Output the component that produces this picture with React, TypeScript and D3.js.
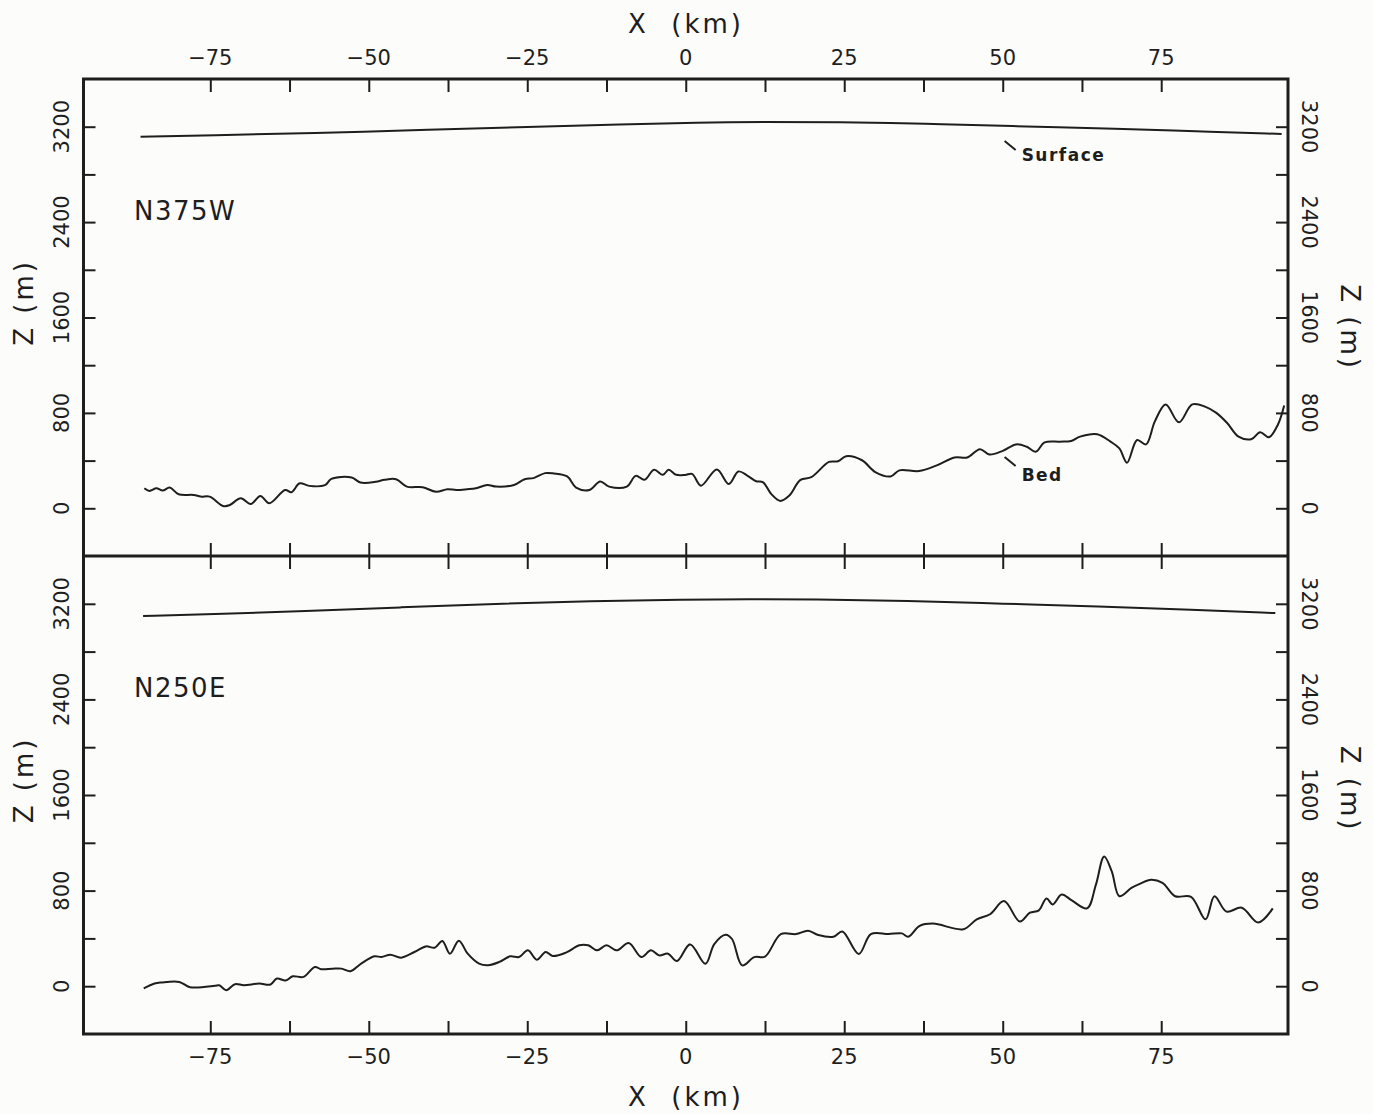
import React, { useRef, useEffect } from 'react';
import * as d3 from 'd3';

// profile data, [X km, Z m]
const n375wSurface = [
    [-86, 3116], [-75, 3128], [-59, 3145], [-40, 3175], [-25, 3197], [-10, 3218],
    [2, 3236], [12, 3240], [24, 3238], [38, 3226], [50.6, 3206], [68.8, 3181],
    [80, 3163], [94, 3139]
];

const n375wBed = [
    [-85.4, 168], [-84.6, 146], [-83.5, 168], [-82.5, 149], [-81.4, 174], [-80, 118], [-77.6, 112],
    [-76.5, 98], [-75.1, 98], [-73, 20], [-72, 25], [-70.2, 84], [-68.6, 36], [-67.1, 104],
    [-65.7, 42], [-63.2, 154], [-62.2, 135], [-60.9, 210], [-59.4, 188], [-56.9, 194], [-55.9, 247],
    [-52.7, 258], [-51.3, 216], [-48.9, 222], [-47.5, 239], [-45.7, 244], [-44, 182], [-41.5, 177],
    [-39.4, 138], [-37.6, 160], [-36.2, 154], [-34.5, 160], [-33.1, 168], [-31.3, 196], [-29.9, 182],
    [-27.1, 196], [-25.4, 244], [-24, 253], [-22.2, 295], [-20.8, 292], [-18.7, 267], [-17.3, 174],
    [-15.2, 154], [-13.5, 225], [-12.1, 182], [-9.3, 182], [-7.9, 272], [-6.5, 239], [-5, 323],
    [-3.6, 281], [-2.7, 323], [-1.5, 281], [-0.1, 280], [1, 289], [2.4, 190], [4.9, 326], [6.8, 204],
    [8.3, 309], [9.7, 275], [11.1, 227], [12.2, 218], [13.5, 119], [14.9, 62], [16.3, 105],
    [18.1, 238], [19.8, 261], [22.6, 389], [24, 394], [25.3, 437], [27.8, 403], [29.9, 304],
    [32.3, 267], [33.7, 318], [36.8, 312], [39.6, 360], [42.4, 426], [44.4, 426], [46.4, 496],
    [47.9, 451], [50, 482], [52.1, 536], [53.8, 516], [55.2, 474], [56.6, 553], [59, 559],
    [60.8, 565], [62.2, 601], [64.9, 621], [67, 559], [68.4, 502], [69.6, 383], [71.2, 573],
    [72.6, 536], [74, 729], [75.7, 871], [77.8, 721], [79.9, 871], [82, 851], [83.7, 800],
    [85.4, 715], [87.2, 601], [89.2, 579], [90.6, 638], [92, 596], [93.4, 701], [94.4, 862]
];

const n250eSurface = [
    [-85.6, 3097], [-75, 3112], [-60, 3140], [-45, 3170], [-30, 3200], [-15, 3222],
    [0, 3235], [10, 3240], [20, 3238], [35, 3225], [50, 3200], [65, 3180], [80, 3150], [93, 3122]
];

const n250eBed = [
    [-85.5, -19], [-83.8, 22], [-82.7, 31], [-79.9, 36], [-78.2, -8], [-74.3, 3], [-73.6, 8],
    [-72.5, -33], [-71.1, 17], [-69.7, 8], [-67.3, 22], [-65.5, 14], [-64.5, 64], [-63.1, 47],
    [-62, 83], [-60.3, 78], [-58.5, 161], [-57.5, 142], [-55.7, 147], [-54.3, 147], [-52.9, 125],
    [-51.2, 189], [-49.1, 250], [-48, 244], [-46.6, 264], [-44.9, 239], [-42.8, 286], [-41, 333],
    [-39.6, 322], [-38.4, 378], [-37.2, 272], [-35.8, 381], [-34.4, 272], [-32.6, 189], [-31.2, 175],
    [-29.4, 203], [-27.7, 250], [-26.3, 244], [-24.9, 300], [-23.5, 222], [-22.1, 286], [-21, 253],
    [-18.9, 281], [-16.8, 342], [-15.4, 342], [-14, 300], [-12.5, 342], [-10.9, 300], [-9, 361],
    [-7, 244], [-5.5, 300], [-4.2, 258], [-2.8, 272], [-1.4, 210], [0.7, 350], [3.1, 188],
    [4.5, 353], [6.3, 431], [7.3, 395], [8.9, 174], [10.8, 243], [12.5, 248], [15, 436],
    [17.4, 436], [19.3, 464], [20.9, 428], [23.3, 414], [24.7, 458], [27.3, 270], [29.2, 436],
    [32, 436], [34.1, 442], [35.1, 414], [36.9, 505], [39, 524], [43.8, 477], [45.9, 560],
    [48, 602], [50.2, 712], [52.7, 541], [54.3, 615], [55.7, 635], [56.9, 734], [57.9, 684],
    [59.3, 767], [60.9, 718], [63.3, 651], [64.7, 850], [66, 1085], [67.2, 960], [68.4, 753],
    [70.3, 822], [71.7, 858], [73.4, 891], [75.2, 864], [77.2, 753], [79.7, 748], [82, 560],
    [83.4, 753], [85.3, 624], [87.7, 657], [90.3, 533], [92.6, 651]
];

const xTicks = d3.range(-75, 75.1, 12.5);
const xLabels = [-75, -50, -25, 0, 25, 50, 75];
const zTicks = d3.range(0, 3201, 400);
const zLabels = [0, 800, 1600, 2400, 3200];

const panels = [
    { name: 'N375W', surface: n375wSurface, bed: n375wBed, top: 79, bottom: 556, labels: true, zRight: 10 },
    { name: 'N250E', surface: n250eSurface, bed: n250eBed, top: 556, bottom: 1034, labels: false, zRight: -6 }
];

function App() {
    const ref = useRef();

    useEffect(() => {
        const width = 1373;
        const height = 1114;
        const left = 83.5;
        const right = 1288;
        const font = "'DejaVu Sans', sans-serif";
        const ink = '#1e1e1e';

        const svg = d3.select(ref.current);
        svg.selectAll('*').remove();
        svg.attr('width', width).attr('height', height);

        svg.append('rect')
            .attr('width', width)
            .attr('height', height)
            .attr('fill', '#fcfcfa');

        const x = d3.scaleLinear().domain([-95, 95]).range([left, right]);
        const fmt = d3.format('d'); // gives the long minus sign

        panels.forEach(p => {
            const y = d3.scaleLinear().domain([-400, 3600]).range([p.bottom, p.top]);
            const g = svg.append('g');

            // inward ticks on all four sides
            const tickAxes = [
                [d3.axisTop(x).tickValues(xTicks).tickSize(-13), `translate(0,${p.top})`],
                [d3.axisBottom(x).tickValues(xTicks).tickSize(-13), `translate(0,${p.bottom})`],
                [d3.axisLeft(y).tickValues(zTicks).tickSize(-12), `translate(${left},0)`],
                [d3.axisRight(y).tickValues(zTicks).tickSize(-12), `translate(${right},0)`]
            ];
            tickAxes.forEach(([axis, tr]) => {
                const a = g.append('g')
                    .attr('transform', tr)
                    .call(axis.tickFormat(() => ''));
                a.select('.domain').remove();
                a.selectAll('line').attr('stroke', ink).attr('stroke-width', 2);
            });

            // z labels, rotated
            zLabels.forEach(v => {
                g.append('text')
                    .attr('transform', `translate(${left - 15},${y(v)}) rotate(-90)`)
                    .attr('text-anchor', 'middle')
                    .attr('font-family', font)
                    .attr('font-size', 21)
                    .attr('fill', ink)
                    .text(v);
                g.append('text')
                    .attr('transform', `translate(${right + 14},${y(v)}) rotate(90)`)
                    .attr('text-anchor', 'middle')
                    .attr('font-family', font)
                    .attr('font-size', 21)
                    .attr('fill', ink)
                    .text(v);
            });

            const mid = (p.top + p.bottom) / 2;
            g.append('text')
                .attr('transform', `translate(33,${mid - 15}) rotate(-90)`)
                .attr('text-anchor', 'middle')
                .attr('font-family', font)
                .attr('font-size', 26)
                .attr('letter-spacing', 3)
                .attr('fill', ink)
                .text('Z (m)');
            g.append('text')
                .attr('transform', `translate(1341,${mid + p.zRight}) rotate(90)`)
                .attr('text-anchor', 'middle')
                .attr('font-family', font)
                .attr('font-size', 26)
                .attr('letter-spacing', 3)
                .attr('fill', ink)
                .text('Z (m)');

            g.append('text')
                .attr('x', 134)
                .attr('y', p.top + 141)
                .attr('font-family', font)
                .attr('font-size', 26)
                .attr('letter-spacing', 1.5)
                .attr('fill', ink)
                .text(p.name);

            const line = d3.line()
                .x(d => x(d[0]))
                .y(d => y(d[1]));

            g.append('path')
                .datum(p.surface)
                .attr('d', line.curve(d3.curveBasis))
                .attr('fill', 'none')
                .attr('stroke', ink)
                .attr('stroke-width', 2);

            g.append('path')
                .datum(p.bed)
                .attr('d', line.curve(d3.curveCatmullRom.alpha(0.5)))
                .attr('fill', 'none')
                .attr('stroke', ink)
                .attr('stroke-width', 2);

            if (p.labels) {
                // leader + label for the surface and bed lines
                const notes = [
                    { text: 'Surface', x0: 50.3, z0: 3080, yText: 161 },
                    { text: 'Bed', x0: 50.3, z0: 430, yText: 481 }
                ];
                notes.forEach(n => {
                    const px = x(n.x0);
                    const py = y(n.z0);
                    g.append('line')
                        .attr('x1', px).attr('y1', py)
                        .attr('x2', px + 11).attr('y2', py + 9)
                        .attr('stroke', ink)
                        .attr('stroke-width', 2);
                    g.append('text')
                        .attr('x', px + 17)
                        .attr('y', n.yText)
                        .attr('font-family', font)
                        .attr('font-size', 17)
                        .attr('font-weight', 'bold')
                        .attr('letter-spacing', 1.5)
                        .attr('fill', ink)
                        .text(n.text);
                });
            }
        });

        // x labels top and bottom
        xLabels.forEach(v => {
            svg.append('text')
                .attr('x', x(v))
                .attr('y', 65)
                .attr('text-anchor', 'middle')
                .attr('font-family', font)
                .attr('font-size', 21)
                .attr('fill', ink)
                .text(fmt(v));
            svg.append('text')
                .attr('x', x(v))
                .attr('y', 1064)
                .attr('text-anchor', 'middle')
                .attr('font-family', font)
                .attr('font-size', 21)
                .attr('fill', ink)
                .text(fmt(v));
        });

        [33, 1106].forEach(yy => {
            svg.append('text')
                .attr('x', 686)
                .attr('y', yy)
                .attr('text-anchor', 'middle')
                .attr('font-family', font)
                .attr('font-size', 26)
                .attr('letter-spacing', 3)
                .style('white-space', 'pre')
                .attr('fill', ink)
                .text('X  (km)');
        });

        // frame and the shared middle line
        svg.append('rect')
            .attr('x', left)
            .attr('y', 79)
            .attr('width', right - left)
            .attr('height', 1034 - 79)
            .attr('fill', 'none')
            .attr('stroke', ink)
            .attr('stroke-width', 3);
        svg.append('line')
            .attr('x1', left).attr('x2', right)
            .attr('y1', 556).attr('y2', 556)
            .attr('stroke', ink)
            .attr('stroke-width', 3);
    }, []);

    return (
        <svg ref={ref} style={{ position: 'absolute', left: 0, top: 0, display: 'block' }} />
    );
}

export default App;
